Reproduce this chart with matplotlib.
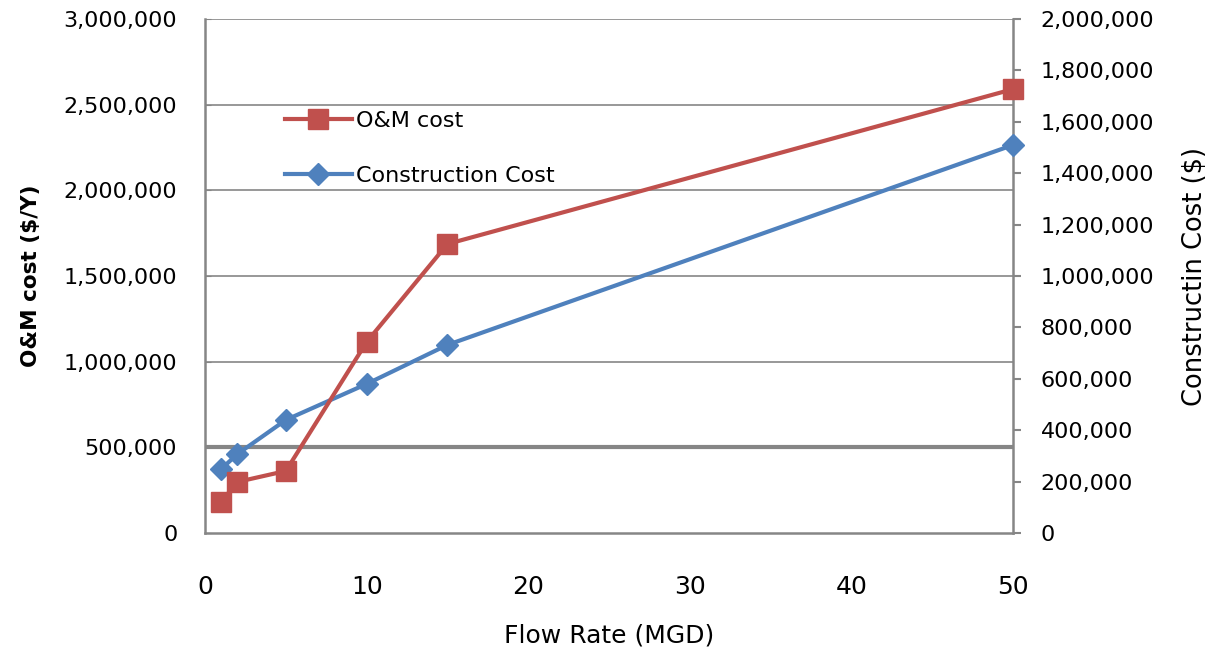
import matplotlib
matplotlib.use("Agg")
import matplotlib.pyplot as plt
from matplotlib.ticker import FuncFormatter, MultipleLocator

flow_mgd = [1, 2, 5, 10, 15, 50]
om_cost = [181000, 298000, 362000, 1115000, 1687000, 2591000]
construction_cost = [249000, 307000, 440000, 580000, 732000, 1510000]

red = "#C0504D"
blue = "#4F81BD"
grey = "#868686"


def commas(v, pos):
    return f"{v:,.0f}"


fig = plt.figure(figsize=(12.22, 6.58), dpi=100)
ax = fig.add_axes([0.1678, 0.19, 0.6612, 0.781])

# left axis: O&M scale, gridlines and frame
ax.set_xlim(0, 50)
ax.set_ylim(0, 3000000)
ax.xaxis.set_major_locator(MultipleLocator(10))
ax.yaxis.set_major_locator(MultipleLocator(500000))
ax.yaxis.set_major_formatter(FuncFormatter(commas))
for y in range(500000, 3000001, 500000):
    ax.axhline(y, color=grey, lw=3 if y == 500000 else 1.2, zorder=0)
for side in ["left", "bottom", "right"]:
    ax.spines[side].set_color(grey)
    ax.spines[side].set_linewidth(1.8)
ax.spines["top"].set_visible(False)
ax.tick_params(axis="y", direction="in", length=4, color=grey, pad=20,
               labelsize=16)
ax.tick_params(axis="x", length=0, pad=30, labelsize=18)
ax.set_xlabel("Flow Rate (MGD)", fontsize=18, labelpad=18)
ax.set_ylabel("O&M cost ($/Y)", fontsize=15.5, fontweight="bold", labelpad=16)

# right axis: construction cost
ax2 = ax.twinx()
ax2.set_ylim(0, 2000000)
ax2.yaxis.set_major_locator(MultipleLocator(200000))
ax2.yaxis.set_major_formatter(FuncFormatter(commas))
for side in ["left", "bottom", "right", "top"]:
    ax2.spines[side].set_visible(False)
ax2.tick_params(axis="y", direction="out", length=6, color=grey, width=1.5,
                pad=14, labelsize=16)
ax2.set_ylabel("Constructin Cost ($)", fontsize=18.5, labelpad=20)
l2, = ax2.plot(flow_mgd, construction_cost, color=blue, lw=3, marker="D",
               markersize=11, label="Construction Cost", clip_on=False)

# O&M series on its own layer so it sits above the blue line
ax3 = ax.twinx()
ax3.set_ylim(ax.get_ylim())
ax3.axis("off")
l1, = ax3.plot(flow_mgd, om_cost, color=red, lw=3, marker="s",
               markersize=14, label="O&M cost", clip_on=False)

ax3.legend(handles=[l1, l2], loc="upper left", bbox_to_anchor=(0.099, 0.821),
           frameon=False, fontsize=16, borderpad=0, borderaxespad=0,
           labelspacing=1.55, handlelength=3, handletextpad=0.2)

fig.savefig("out.png", dpi=100)
